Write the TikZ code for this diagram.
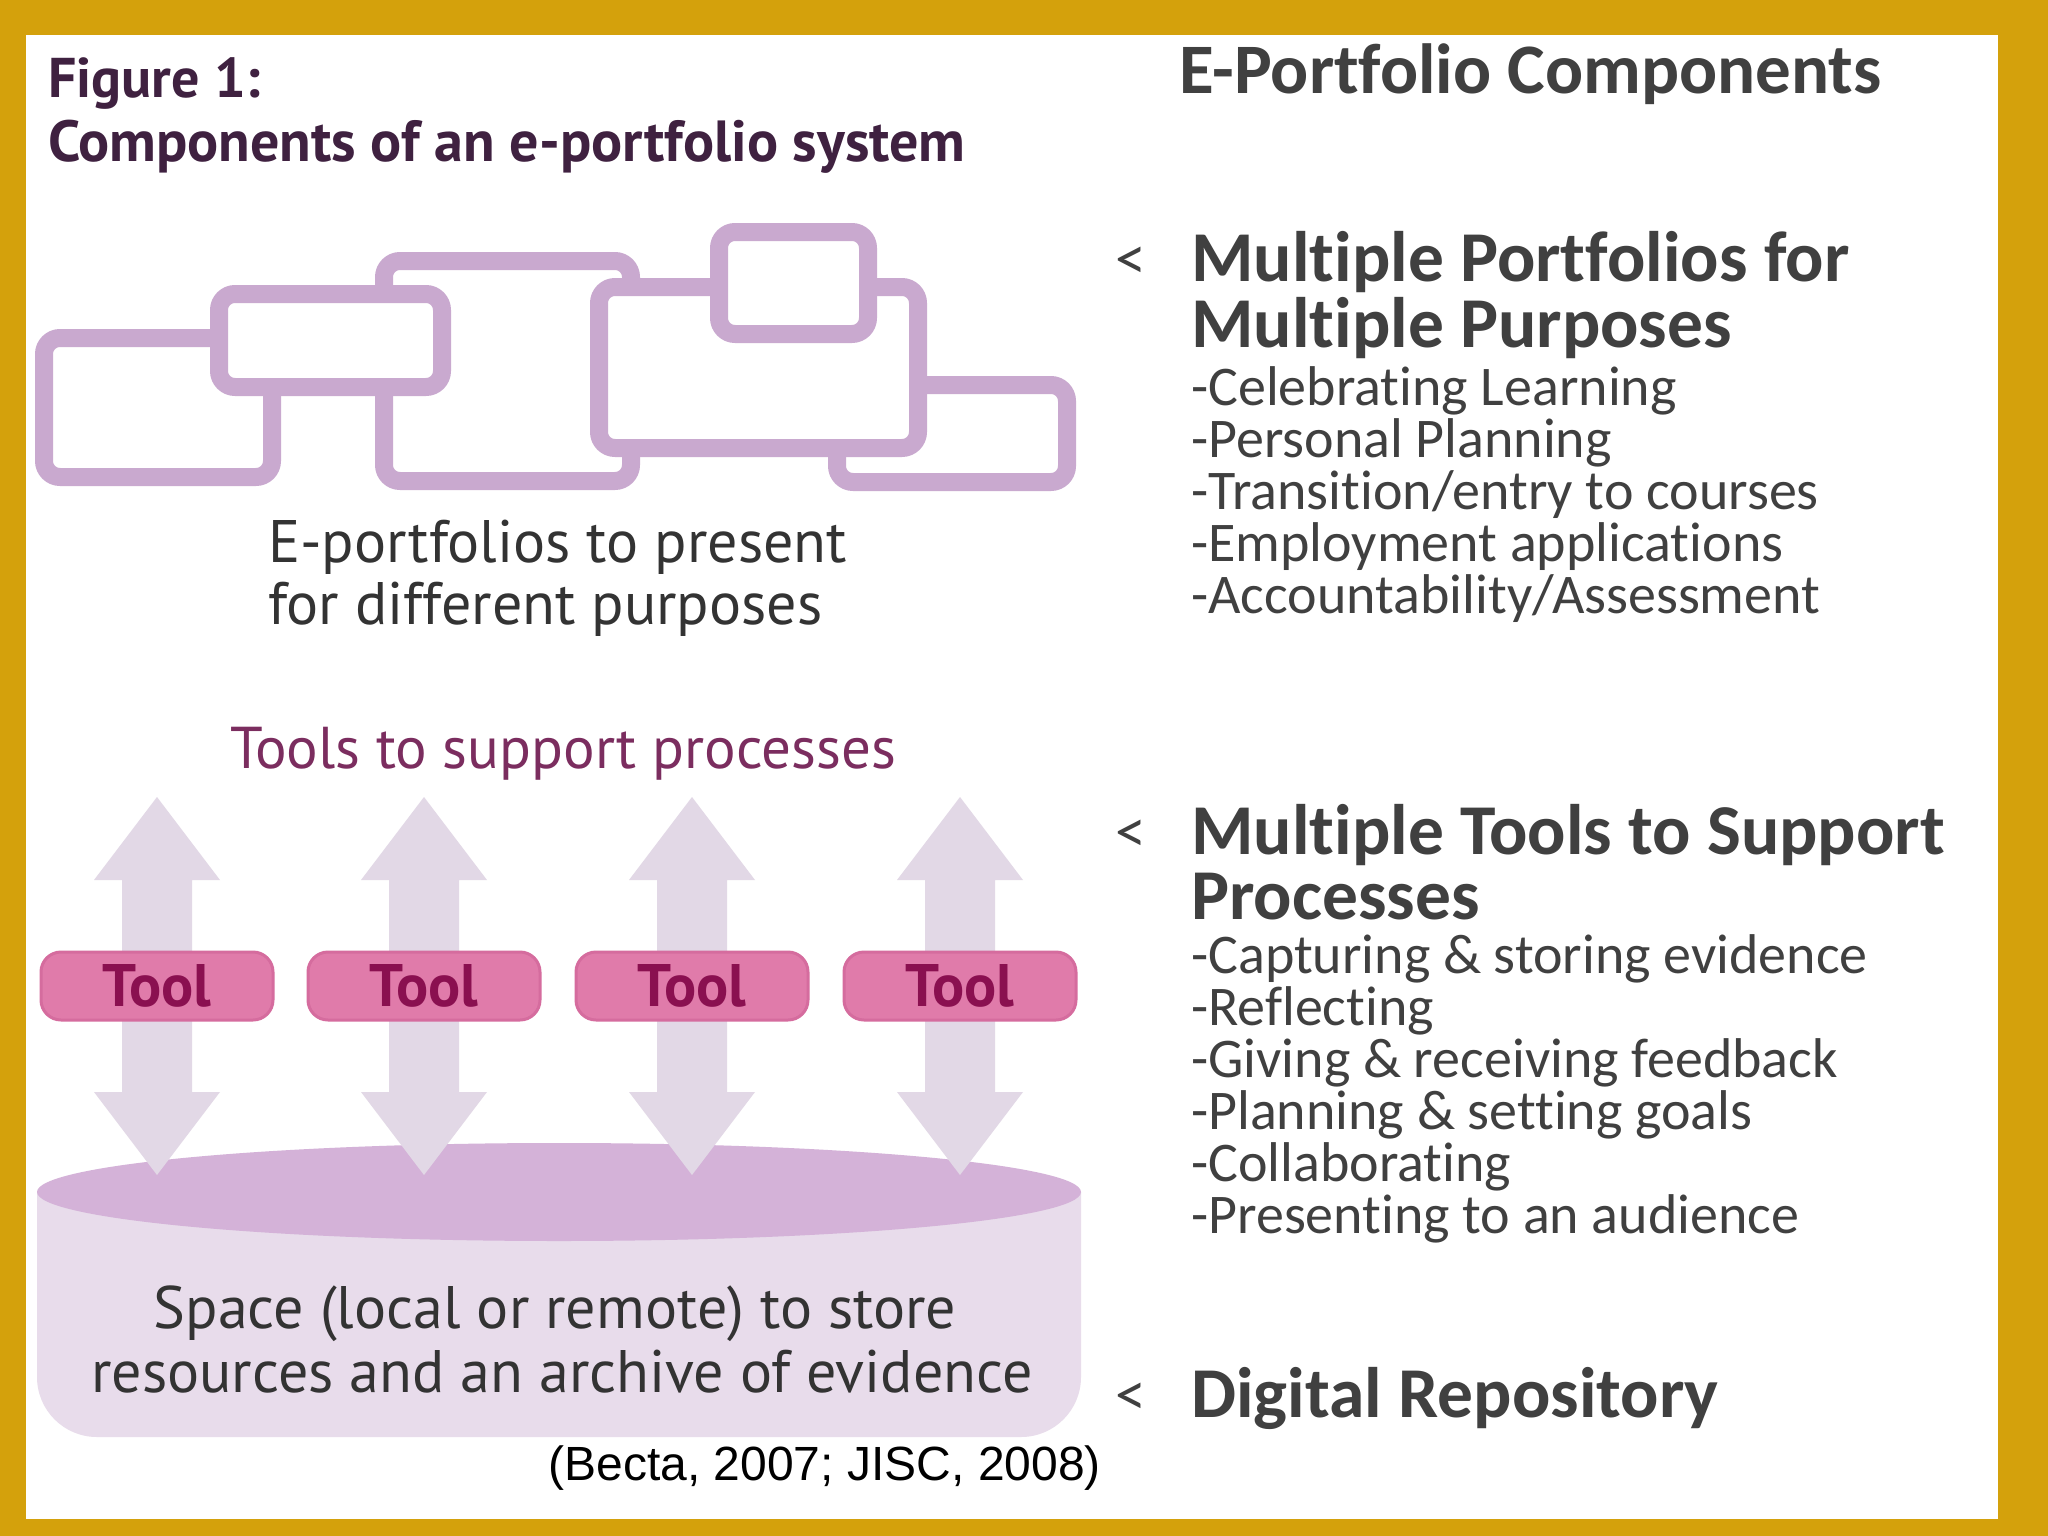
\documentclass[tikz,border=0pt]{standalone}
\usepackage{fontspec}
\setmainfont{Carlito}[Ligatures=NoCommon]
\newfontfamily\figfont{PT Sans}
\newfontfamily\citefont{Liberation Sans}
\usetikzlibrary{positioning}
\definecolor{FrameGold}{HTML}{D4A10C}
\definecolor{BoxLilac}{HTML}{C9A9CF}
\definecolor{ToolPink}{HTML}{E07BAA}
\definecolor{ToolEdge}{HTML}{D56C9E}
\definecolor{ToolText}{HTML}{8A1050}
\definecolor{ArrowLilac}{HTML}{E2D8E6}
\definecolor{CylTop}{HTML}{D4B2D8}
\definecolor{CylBody}{HTML}{E8DCEB}
\definecolor{FigPlum}{HTML}{3F2140}
\definecolor{ToolsPlum}{HTML}{7B2D5F}
\definecolor{SlideGray}{HTML}{404040}
\tikzset{
  pbox/.style={draw=BoxLilac,line width=18pt,fill=white,rounded corners=16pt},
  toolbox/.style={draw=ToolEdge,line width=3pt,fill=ToolPink,rounded corners=20pt,
    minimum width=232pt,minimum height=68pt,inner sep=0pt,text=ToolText,
    font=\figfont\bfseries\fontsize{60}{64}\selectfont},
  txt/.style={inner sep=0pt,anchor=base west},
  head/.style={txt,text depth=0pt,text=SlideGray,font=\bfseries\fontsize{71.5}{80}\selectfont},
  item/.style={txt,text=SlideGray,font=\fontsize{56}{60}\selectfont},
  bulletmark/.style={txt,text=SlideGray,font=\fontsize{62}{66}\selectfont},
  figtxt/.style={inner sep=0pt,anchor=base,text=black!80,font=\figfont\fontsize{60}{64}\selectfont},
}
\begin{document}
\begin{tikzpicture}[x=1pt,y=-1pt,line join=round]
  \useasboundingbox (0,0) rectangle (2048,1536);
  \fill[FrameGold] (0,0) rectangle (2048,1536);
  \fill[white] (26,35) rectangle (1998,1519);
  % portfolios
  \draw[pbox] (44,338) rectangle (272,477);
  \draw[pbox] (384,261) rectangle (631,481);
  \draw[pbox] (219,294) rectangle (442,387);
  \draw[pbox] (837,385) rectangle (1067,482);
  \draw[pbox] (599,287) rectangle (918,448);
  \draw[pbox] (719,232) rectangle (868,334);
  % repository
  \fill[CylBody] (37,1192) [rounded corners=60pt] -- (37,1437) -- (1081,1437) [sharp corners] -- (1081,1192) -- cycle;
  \fill[CylTop] (559,1192) ellipse [x radius=522pt,y radius=49pt];
  % tools
  \foreach \x/\n in {157/1,424/2,692/3,960/4}{
    \fill[ArrowLilac] (\x,797) -- ({\x+63},880) -- ({\x+35},880) -- ({\x+35},1092) -- ({\x+63},1092)
      -- (\x,1175) -- ({\x-63},1092) -- ({\x-35},1092) -- ({\x-35},880) -- ({\x-63},880) -- cycle;
    \node[toolbox] (tool\n) at (\x,986) {Tool};
  }
  \node[txt,text=FigPlum,font=\figfont\bfseries\fontsize{56}{60}\selectfont] (fig) at (48,98) {Figure 1:};
  \node[txt,text=FigPlum,font=\figfont\bfseries\fontsize{58}{60}\selectfont] (figcap) at (48,161) {Components of an e-portfolio system};
  \node[txt,text=black!80,font=\figfont\fontsize{60}{64}\selectfont] (present1) at (268,562) {E-portfolios to present};
  \node[txt,text=black!80,font=\figfont\fontsize{60}{64}\selectfont] (present2) at (268,624) {for different purposes};
  \node[figtxt,text=ToolsPlum,font=\figfont\fontsize{59}{64}\selectfont] (support) at (563,768) {Tools to support processes};
  \node[figtxt] (space1) at (555,1328) {Space (local or remote) to store};
  \node[figtxt] (space2) at (562,1392) {resources and an archive of evidence};
  \node[inner sep=0pt,anchor=base east,font=\citefont\fontsize{48}{50}\selectfont] (cite) at (1101,1480) {(Becta, 2007; JISC, 2008)};
  % slide text
  \node[txt,text=SlideGray,font=\bfseries\fontsize{71}{80}\selectfont] (title) at (1179,94) {E-Portfolio Components};
  \node[bulletmark] (b1) at (1115,279) {<};
  \node[head] (h1a) at (1191,281) {Multiple Portfolios for};
  \node[head] (h1b) at (1191,347) {Multiple Purposes};
  \foreach \t [count=\i from 0] in {-Celebrating Learning,-Personal Planning,-Transition/entry to courses,-Employment applications,-Accountability/Assessment}
    \node[item] (p\i) at (1191,{405+52*\i}) {\t};
  \node[bulletmark] (b2) at (1115,852) {<};
  \node[head] (h2a) at (1191,854) {Multiple Tools to Support};
  \node[head] (h2b) at (1191,919) {Processes};
  \foreach \t [count=\i from 0] in {-Capturing \& storing evidence,-Reflecting,-Giving \& receiving feedback,-Planning \& setting goals,-Collaborating,-Presenting to an audience}
    \node[item] (t\i) at (1191,{973+52*\i}) {\t};
  \node[bulletmark] (b3) at (1115,1415) {<};
  \node[head] (h3) at (1191,1417) {Digital Repository};
\end{tikzpicture}
\end{document}
